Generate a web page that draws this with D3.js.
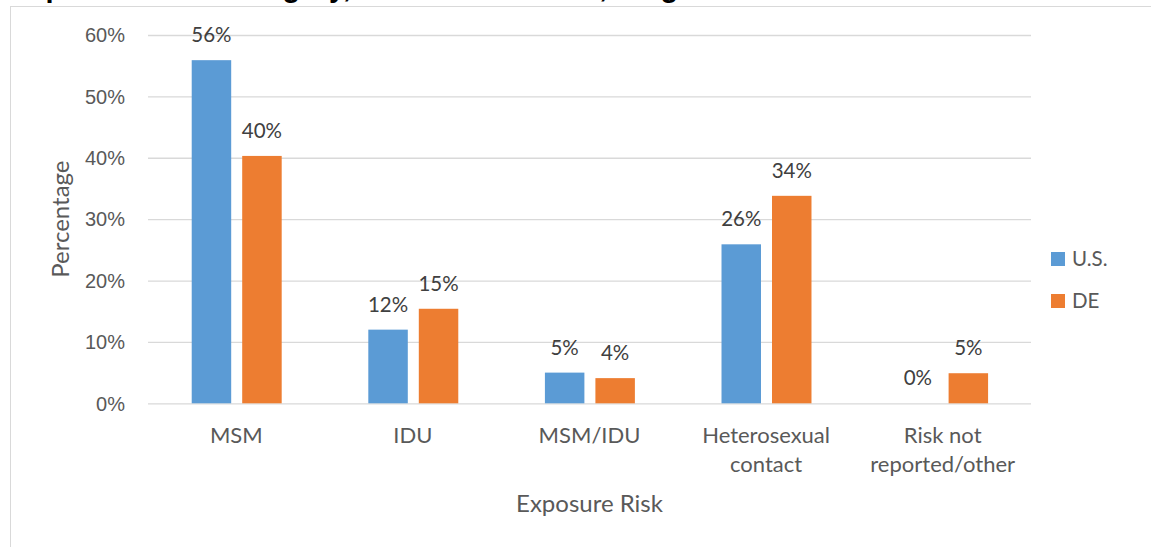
<!DOCTYPE html>
<html>
<head>
<meta charset="utf-8">
<script src="https://cdn.jsdelivr.net/npm/d3@7"></script>
<style>
  html, body { margin: 0; padding: 0; background: #fff; }
  svg { display: block; font-family: "Lato", "Open Sans", sans-serif; }
  .grid line { stroke: #d9d9d9; stroke-width: 1.3; }
  .grid text { fill: #595959; font-size: 20px; }
</style>
</head>
<body>
<div id="chart"></div>
<script>
const categories = ["MSM", "IDU", "MSM/IDU", "Heterosexual contact", "Risk not reported/other"];
const categoryLines = [["MSM"], ["IDU"], ["MSM/IDU"], ["Heterosexual", "contact"], ["Risk not", "reported/other"]];
const series = ["U.S.", "DE"];
const usValues = [55.9, 12, 5, 25.9, 0];
const deValues = [40.3, 15.4, 4.1, 33.8, 4.9];
const yTicks = [0, 10, 20, 30, 40, 50, 60];
const colors = { "U.S.": "#5b9bd5", "DE": "#ed7d31" };

const width = 1151, height = 547;
const plot = { left: 148, right: 1031, top: 35, bottom: 403.3 };

const svg = d3.select("#chart").append("svg")
  .attr("width", width)
  .attr("height", height);

// chart frame (runs past the picture edge)
svg.append("rect")
  .attr("x", 10.5).attr("y", 6.5)
  .attr("width", width + 20).attr("height", height + 20)
  .attr("fill", "none")
  .attr("stroke", "#d9d9d9");

// title, mostly cut off at the top
svg.append("text")
  .attr("x", 10).attr("y", -3)
  .attr("font-family", "Liberation Sans, Arial, sans-serif")
  .attr("font-weight", "bold")
  .attr("font-size", 29)
  .attr("fill", "#000")
  .text("Exposure Risk Category, Delaware vs. U.S., Diagnosed");

const x = d3.scaleBand()
  .domain(categories)
  .range([plot.left, plot.right]);

const bw = x.bandwidth();
const xs = d3.scaleBand()
  .domain(series)
  .range([bw * 0.2475, bw * 0.757])
  .paddingInner(0.218);

const y = d3.scaleLinear()
  .domain([0, 60])
  .range([plot.bottom, plot.top]);

// gridlines + tick labels
const grid = svg.append("g")
  .attr("class", "grid")
  .attr("transform", `translate(${plot.left},0)`)
  .call(d3.axisLeft(y)
    .tickValues(yTicks)
    .tickSize(-(plot.right - plot.left))
    .tickPadding(23)
    .tickFormat(d => d + "%"));
grid.select(".domain").remove();
grid.selectAll("text").attr("dy", "0.34em");

const rows = categories.map((c, i) => ({ cat: c, values: [
  { key: "U.S.", value: usValues[i] },
  { key: "DE", value: deValues[i] }
]}));

const groups = svg.append("g").selectAll("g")
  .data(rows)
  .join("g")
  .attr("transform", d => `translate(${x(d.cat)},0)`);

groups.selectAll("rect")
  .data(d => d.values)
  .join("rect")
  .attr("x", d => xs(d.key))
  .attr("width", xs.bandwidth())
  .attr("y", d => y(d.value))
  .attr("height", d => y(0) - y(d.value))
  .attr("fill", d => colors[d.key]);

groups.selectAll("text.val")
  .data(d => d.values)
  .join("text")
  .attr("class", "val")
  .attr("x", d => xs(d.key) + xs.bandwidth() / 2)
  .attr("y", d => y(d.value) - 18)
  .attr("text-anchor", "middle")
  .attr("font-size", 20.5)
  .attr("fill", "#404040")
  .text(d => Math.round(d.value) + "%");

// category labels
const catLabels = svg.append("g").selectAll("text")
  .data(categories)
  .join("text")
  .attr("x", d => x(d) + bw / 2)
  .attr("y", 442.7)
  .attr("text-anchor", "middle")
  .attr("font-size", 22)
  .attr("fill", "#595959");

catLabels.each(function(d, i) {
  d3.select(this).selectAll("tspan")
    .data(categoryLines[i])
    .join("tspan")
    .attr("x", x(d) + bw / 2)
    .attr("dy", (t, j) => j === 0 ? 0 : 29)
    .text(t => t);
});

// axis titles
svg.append("text")
  .attr("x", (plot.left + plot.right) / 2)
  .attr("y", 511.7)
  .attr("text-anchor", "middle")
  .attr("font-size", 24)
  .attr("fill", "#595959")
  .text("Exposure Risk");

svg.append("text")
  .attr("transform", `translate(69,${(plot.top + plot.bottom) / 2}) rotate(-90)`)
  .attr("text-anchor", "middle")
  .attr("font-size", 24)
  .attr("fill", "#595959")
  .text("Percentage");

// legend
const legend = svg.append("g").selectAll("g")
  .data(series)
  .join("g")
  .attr("transform", (d, i) => `translate(1051,${252 + i * 42})`);

legend.append("rect")
  .attr("width", 14).attr("height", 14)
  .attr("fill", d => colors[d]);

legend.append("text")
  .attr("x", 21).attr("y", 14)
  .attr("font-size", 20.5)
  .attr("fill", "#595959")
  .text(d => d);
</script>
</body>
</html>
